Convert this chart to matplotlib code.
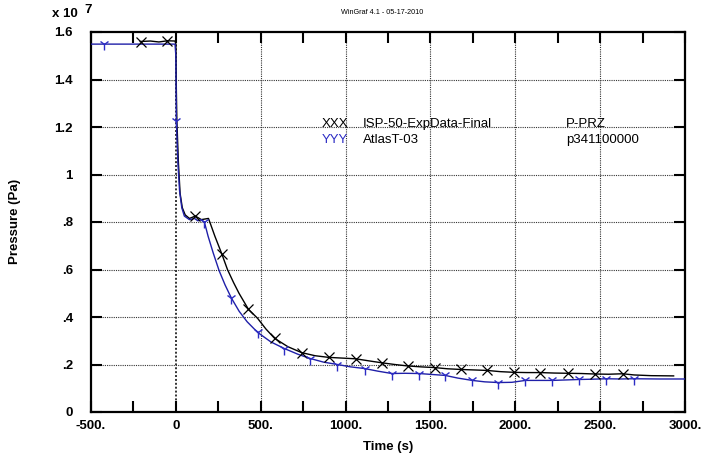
import numpy as np
import matplotlib
matplotlib.use("Agg")
import matplotlib.pyplot as plt
from matplotlib.ticker import FixedLocator, FixedFormatter

# ---- data (pressure in units of 1e7 Pa, time in s) ----
exp_t = [-210, -150, -100, -50, -5, 0, 3, 6, 15, 25, 38, 55, 80, 115, 150, 192, 205, 230,
         270, 304, 340, 372, 428, 481, 530, 582, 660, 741, 820, 900, 980, 1060, 1140,
         1215, 1290, 1365, 1445, 1525, 1600, 1681, 1760, 1834, 1910, 1993, 2070, 2147,
         2230, 2313, 2390, 2467, 2550, 2632, 2700, 2800, 2933]
exp_p = [1.560, 1.562, 1.558, 1.563, 1.562, 1.55, 1.35, 1.227, 1.05, 0.92, 0.86, 0.83,
         0.815, 0.825, 0.81, 0.815, 0.79, 0.74, 0.667, 0.60, 0.545, 0.50, 0.432, 0.395,
         0.35, 0.31, 0.275, 0.25, 0.237, 0.23, 0.227, 0.224, 0.215, 0.207, 0.20, 0.194,
         0.19, 0.187, 0.182, 0.179, 0.177, 0.175, 0.17, 0.167, 0.166, 0.166, 0.164,
         0.163, 0.162, 0.16, 0.159, 0.161, 0.156, 0.153, 0.152]
exp_mark_t = [-204, -51, 115, 270, 428, 582, 741, 900, 1060, 1215, 1365, 1525, 1681,
              1834, 1993, 2147, 2313, 2467, 2632]
exp_mark_p = [1.560, 1.563, 0.825, 0.667, 0.432, 0.31, 0.25, 0.23, 0.224, 0.207, 0.194,
              0.187, 0.179, 0.175, 0.167, 0.166, 0.163, 0.16, 0.161]

sim_t = [-500, -5, 0, 1, 3, 12, 22, 35, 50, 80, 110, 130, 150, 168, 190, 220, 255, 290,
         327, 373, 420, 482, 560, 640, 720, 793, 870, 952, 1030, 1112, 1190, 1273, 1350,
         1433, 1510, 1587, 1660, 1746, 1820, 1900, 1980, 2060, 2140, 2218, 2300, 2378,
         2450, 2537, 2620, 2697, 2850, 3000]
sim_p = [1.549, 1.549, 1.50, 1.40, 1.227, 1.05, 0.93, 0.86, 0.825, 0.81, 0.815, 0.805,
         0.81, 0.80, 0.74, 0.67, 0.595, 0.535, 0.48, 0.424, 0.38, 0.335, 0.295, 0.267,
         0.243, 0.225, 0.21, 0.20, 0.19, 0.183, 0.172, 0.162, 0.163, 0.162, 0.158, 0.154,
         0.143, 0.133, 0.127, 0.124, 0.125, 0.133, 0.133, 0.133, 0.135, 0.137, 0.138,
         0.14, 0.139, 0.14, 0.139, 0.139]
sim_mark_t = [-423, 3, 168, 327, 482, 640, 793, 952, 1112, 1273, 1433, 1587, 1746, 1900,
              2060, 2218, 2378, 2537, 2697]
sim_mark_p = [1.549, 1.227, 0.80, 0.48, 0.335, 0.267, 0.225, 0.20, 0.183, 0.162, 0.162,
              0.154, 0.133, 0.124, 0.133, 0.133, 0.137, 0.14, 0.14]

x_ticks = [-500, 0, 500, 1000, 1500, 2000, 2500, 3000]
x_labels = ["-500.", "0", "500.", "1000.", "1500.", "2000.", "2500.", "3000."]
y_ticks = [0, 0.2, 0.4, 0.6, 0.8, 1.0, 1.2, 1.4, 1.6]
y_labels = ["0", ".2", ".4", ".6", ".8", "1", "1.2", "1.4", "1.6"]

legend_rows = [("XXX", "ISP-50-ExpData-Final", "P-PRZ"),
               ("YYY", "AtlasT-03", "p341100000")]

BLUE = "#1f1fa8"
BLUE_M = "#2d2dc4"

plt.rcParams['font.family'] = ['Liberation Sans', 'DejaVu Sans']

W, H = 703, 455
fig = plt.figure(figsize=(W / 100, H / 100), dpi=100)
ax = fig.add_axes([91 / W, 1 - 412 / H, (685 - 91) / W, (412 - 32) / H])

ax.set_xlim(-500, 3000)
ax.set_ylim(0, 1.6)

# grid
for xv in x_ticks[1:-1]:
    ax.axvline(xv, color="#333333", lw=1.4 if xv == 0 else 0.8, ls=(0, (1, 1)), zorder=1)
for yv in y_ticks[1:-1]:
    ax.axhline(yv, color="#333333", lw=0.8, ls=(0, (1, 1)), zorder=1)

ax.plot(exp_t, exp_p, color="black", lw=1.0, zorder=3)
ax.plot(exp_mark_t, exp_mark_p, ls="none", marker="x", ms=7, mew=0.9, color="black", zorder=4)
ax.plot(sim_t, sim_p, color=BLUE, lw=1.0, zorder=3)
ax.plot(sim_mark_t, sim_mark_p, ls="none", marker="1", ms=8, mew=1.0, color=BLUE_M, zorder=4)

ax.xaxis.set_major_locator(FixedLocator(x_ticks))
ax.xaxis.set_major_formatter(FixedFormatter(x_labels))
ax.xaxis.set_minor_locator(FixedLocator([-250, 250, 750, 1250, 1750, 2250, 2750]))
ax.yaxis.set_major_locator(FixedLocator(y_ticks))
ax.yaxis.set_major_formatter(FixedFormatter(y_labels))

ax.tick_params(which="both", direction="in", length=8, width=1.5, top=True, right=True,
               labelsize=9.5, pad=6)
ax.tick_params(axis="y", pad=13)
for lab in ax.get_xticklabels() + ax.get_yticklabels():
    lab.set_fontweight("bold")
for s in ax.spines.values():
    s.set_linewidth(1.6)

ax.set_xlabel("Time (s)", fontsize=9.5, fontweight="bold", labelpad=6)
fig.text(15 / W, 1 - 221 / H, "Pressure (Pa)", rotation=90, fontsize=9.5,
         fontweight="bold", ha="center", va="center")

fig.text(52 / W, 1 - 14 / H, "x 10", fontsize=9.5, fontweight="bold", ha="left", va="center")
fig.text(84 / W, 1 - 10 / H, "7", fontsize=9.5, fontweight="bold", ha="left", va="center")
fig.text(382 / W, 1 - 13 / H, "WinGraf 4.1 - 05-17-2010", fontsize=5.2, ha="center",
         va="center", family=["Liberation Sans Narrow", "Liberation Sans", "DejaVu Sans"])

for i, (sym, name, var) in enumerate(legend_rows):
    yy = 1 - (124 + 16 * i) / H
    col = "black" if i == 0 else BLUE_M
    fig.text(322 / W, yy, sym, fontsize=9.5, color=col, va="center", ha="left")
    fig.text(363 / W, yy, name, fontsize=9.5, color="black", va="center", ha="left")
    fig.text(566 / W, yy, var, fontsize=9.5, color="black", va="center", ha="left")

fig.savefig("out.png", dpi=100)
